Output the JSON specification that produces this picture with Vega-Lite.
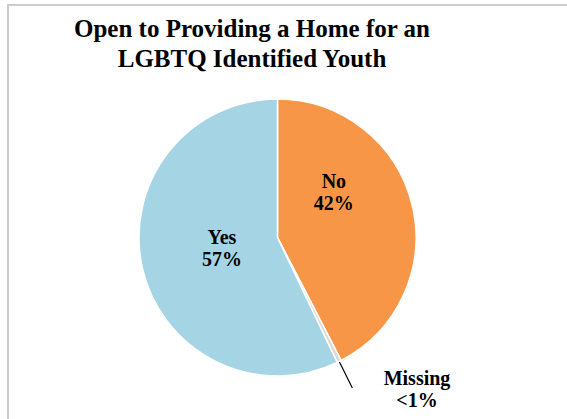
{
  "$schema": "https://vega.github.io/schema/vega-lite/v6.json",
  "autosize": {"type": "none"},
  "padding": {"left": 8, "top": 5, "right": 0, "bottom": 0},
  "width": 570,
  "height": 465,
  "background": "white",
  "config": {
    "view": {"stroke": "#cccccc", "strokeWidth": 2},
    "font": "Liberation Serif"
  },
  "view": {"stroke": "#cccccc", "strokeWidth": 2, "fill": "white"},
  "title": {
    "text": ["Open to Providing a Home for an", "LGBTQ Identified Youth"],
    "font": "Liberation Serif",
    "fontSize": 25,
    "fontWeight": "bold",
    "color": "black",
    "anchor": "middle",
    "frame": "group",
    "baseline": "top",
    "offset": -67,
    "dx": -41,
    "lineHeight": 30
  },
  "data": {
    "values": [
      {"answer": "No", "pct": 42.4, "ord": 1, "label": "No\n42%"},
      {"answer": "Missing", "pct": 0.5, "ord": 2, "label": "Missing\n<1%"},
      {"answer": "Yes", "pct": 57.1, "ord": 3, "label": "Yes\n57%"}
    ]
  },
  "encoding": {
    "theta": {"field": "pct", "type": "quantitative", "stack": true},
    "order": {"field": "ord", "type": "quantitative"},
    "detail": {"field": "answer", "type": "nominal"}
  },
  "layer": [
    {
      "mark": {"type": "arc", "radius": 138.5, "stroke": "white", "strokeWidth": 1.5, "xOffset": -15.5},
      "encoding": {
        "color": {
          "field": "answer",
          "type": "nominal",
          "scale": {"domain": ["No", "Missing", "Yes"], "range": ["#F79646", "#D9D9D9", "#A5D5E5"]},
          "legend": null
        }
      }
    },
    {
      "mark": {"type": "arc", "radius": 168, "radius2": 139, "padAngle": 0.3, "fillOpacity": 0, "fill": "white", "stroke": "black", "strokeWidth": 1.2, "xOffset": -15.5},
      "encoding": {
        "strokeOpacity": {"condition": {"test": "datum.answer === 'Missing'", "value": 1}, "value": 0}
      }
    },
    {
      "mark": {"type": "text", "radius": 57, "dy": -12, "fontSize": 20, "fontWeight": "bold", "font": "Liberation Serif", "lineBreak": "\n", "baseline": "middle", "color": "black", "xOffset": -15.5},
      "encoding": {
        "text": {"field": "label", "type": "nominal"},
        "opacity": {"condition": {"test": "datum.answer === 'Yes'", "value": 1}, "value": 0}
      }
    },
    {
      "mark": {"type": "text", "radius": 58, "dy": -42, "fontSize": 20, "fontWeight": "bold", "font": "Liberation Serif", "lineBreak": "\n", "baseline": "middle", "color": "black", "xOffset": -15.5},
      "encoding": {
        "text": {"field": "label", "type": "nominal"},
        "opacity": {"condition": {"test": "datum.answer === 'No'", "value": 1}, "value": 0}
      }
    },
    {
      "mark": {"type": "text", "radius": 165, "dx": 66, "dy": -6, "fontSize": 20, "fontWeight": "bold", "font": "Liberation Serif", "lineBreak": "\n", "baseline": "middle", "color": "black", "xOffset": -15.5},
      "encoding": {
        "text": {"field": "label", "type": "nominal"},
        "opacity": {"condition": {"test": "datum.answer === 'Missing'", "value": 1}, "value": 0}
      }
    }
  ]
}
